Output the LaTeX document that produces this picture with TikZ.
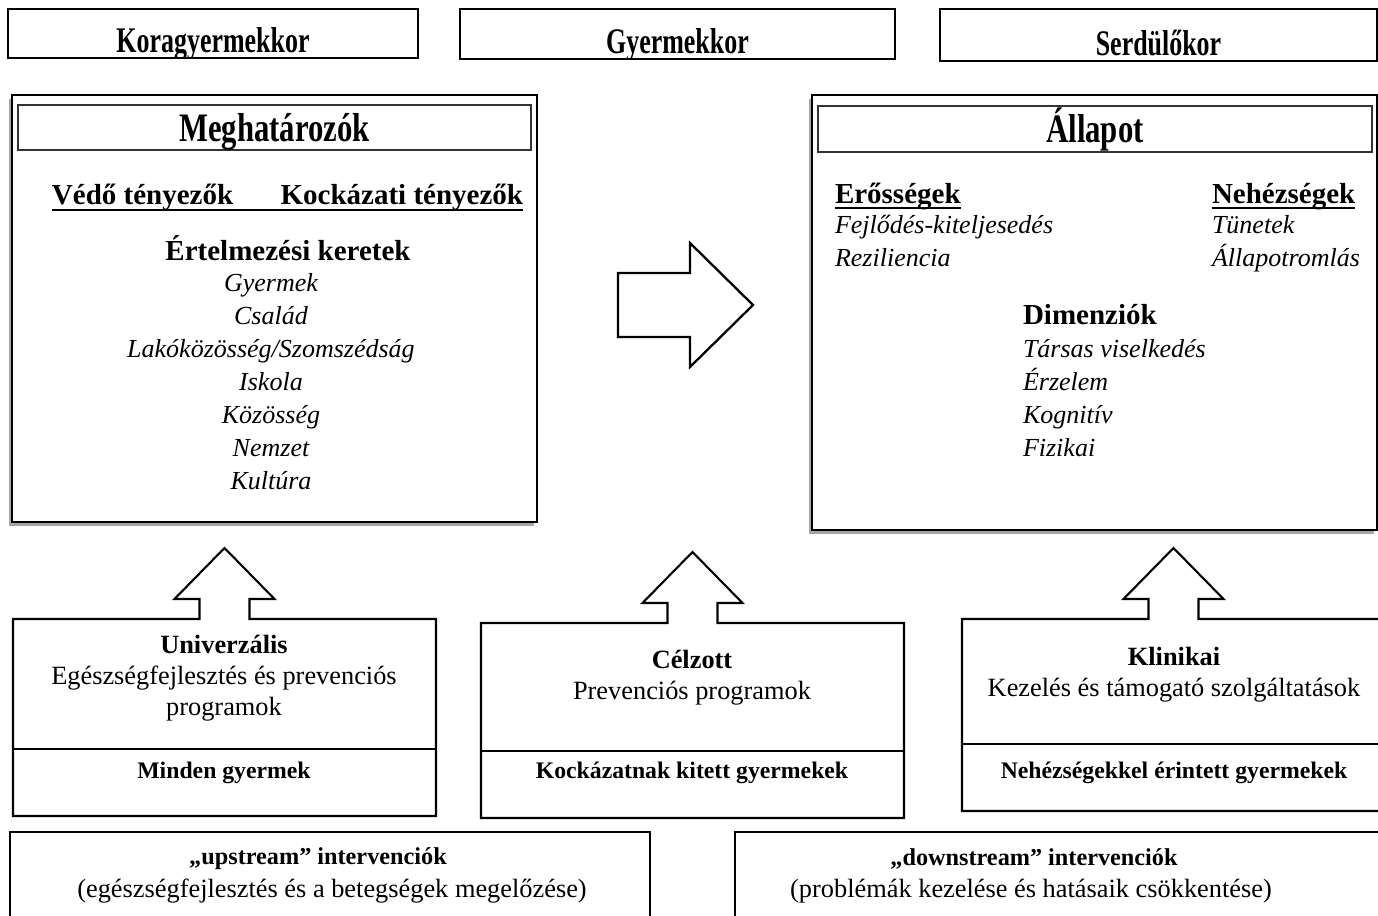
\documentclass[tikz,border=0pt]{standalone}
\usepackage{fontspec}
\setmainfont{Liberation Serif}
\newfontfamily\tallfont{Liberation Serif}[FakeStretch=0.72]
\newfontfamily\titlefont{Liberation Serif}[FakeStretch=0.76]
\usetikzlibrary{calc, shadows}
\newcommand\pxu{0.2mm}
\tikzset{
  every node/.style = {inner sep=0pt, outer sep=0pt},
  agebox/.style     = {draw, line width=1.6pt},
  agelab/.style     = {font=\tallfont\fontsize{20.5}{24}\selectfont\bfseries, anchor=base},
  bigbox/.style     = {draw, line width=1.7pt, fill=white,
                       drop shadow={shadow xshift=-1.6pt, shadow yshift=-2pt, opacity=.35, fill=black}},
  titlebox/.style   = {draw=black!80, line width=0.9pt},
  titlelab/.style   = {font=\titlefont\fontsize{23}{26}\selectfont\bfseries, anchor=base},
  headlab/.style    = {font=\fontsize{16.5}{19}\selectfont\bfseries},
  itemlab/.style    = {font=\fontsize{14.8}{17}\selectfont\itshape, anchor=base},
  uline/.style      = {line width=1.1pt},
  bigarrow/.style   = {draw, line width=1.3pt, fill=white, line join=miter},
  progline/.style   = {draw, line width=1.2pt, line join=miter},
  proglab/.style    = {font=\fontsize{15}{17.6}\selectfont, align=center},
  grouplab/.style   = {font=\fontsize{13.5}{16}\selectfont\bfseries},
  streambox/.style  = {draw, line width=1.5pt},
  streamhead/.style = {font=\fontsize{13.8}{16}\selectfont\bfseries},
  streamlab/.style  = {font=\fontsize{15}{18}\selectfont},
}
\begin{document}
\begin{tikzpicture}[x=0.2mm, y=-0.2mm]
\useasboundingbox (0,0) rectangle (1378,916);

% age bands
\node[agebox, minimum width=410*\pxu, minimum height=49*\pxu] (kora) at (213,33.5) {};
\node[agebox, minimum width=435*\pxu, minimum height=50*\pxu] (gyer) at (677.5,34) {};
\node[agebox, minimum width=437*\pxu, minimum height=52*\pxu] (serd) at (1158.5,35) {};
\foreach \n/\t in {kora/Koragyermekkor, gyer/Gyermekkor, serd/Serdülőkor}{
  \begin{scope}
    \clip ($(\n.south west)+(1.5,-1.5)$) rectangle ($(\n.north east)+(-1.5,1.5)$);
    \node[agelab] (\n lab) at ($(\n.south)+(0,-6)$) {\t};
  \end{scope}
}

% determinants
\node[bigbox, minimum width=525*\pxu, minimum height=427*\pxu] (det) at (274.5,308.5) {};
\node[titlebox, minimum width=513*\pxu, minimum height=45*\pxu] (dettitle) at (274.5,127.5) {};
\node[titlelab] (dettitlelab) at (274.5,141) {Meghatározók};
\node[headlab, anchor=base west] (protect) at (52,204) {Védő tényezők};
\node[headlab, anchor=base east] (risk) at (523,204) {Kockázati tényezők};
\draw[uline] ($(protect.base west)+(0,6)$) -- ($(risk.base east)+(0,6)$);
\node[headlab] (frames) at (288,248) {Értelmezési keretek};
\foreach \t [count=\i] in {Gyermek, Család, {Lakóközösség/Szomszédság}, Iskola, Közösség, Nemzet, Kultúra}
  \node[itemlab] (frame\i) at (271,258+33*\i) {\t};

% state
\node[bigbox, minimum width=565*\pxu, minimum height=435*\pxu] (state) at (1094.5,312.5) {};
\node[titlebox, minimum width=554*\pxu, minimum height=46*\pxu] (statetitle) at (1095,129) {};
\node[titlelab] (statetitlelab) at (1095,142) {Állapot};
\node[headlab, anchor=base west] (strength) at (835,203) {Erősségek};
\draw[uline] ($(strength.base west)+(0,5)$) -- ($(strength.base east)+(0,5)$);
\node[headlab, anchor=base west] (difficulty) at (1212,203) {Nehézségek};
\draw[uline] ($(difficulty.base west)+(0,5)$) -- ($(difficulty.base east)+(0,5)$);
\foreach \t [count=\i] in {Fejlődés-kiteljesedés, Reziliencia}
  \node[itemlab, anchor=base west] (strength\i) at (835,200+33*\i) {\t};
\foreach \t [count=\i] in {Tünetek, Állapotromlás}
  \node[itemlab, anchor=base west] (difficulty\i) at (1212,200+33*\i) {\t};
\node[headlab, anchor=base west] (dimension) at (1023,324) {Dimenziók};
\foreach \t [count=\i] in {Társas viselkedés, Érzelem, Kognitív, Fizikai}
  \node[itemlab, anchor=base west] (dimension\i) at (1023,324+33*\i) {\t};

% big arrow
\coordinate (arrowfoot) at (618,305);
\draw[bigarrow] (arrowfoot) -- ++(0,-32) -- ++(72,0) -- ++(0,-30) -- ++(63,62)
  -- ++(-63,62) -- ++(0,-30) -- ++(-72,0) -- cycle;

% programmes
\foreach \n/\cx/\cy/\h in {uni/224.5/717.5/197, tgt/692.5/720.5/195, clin/1173.5/715/192}{
  \node[minimum width=423*\pxu, minimum height=\h*\pxu] (\n) at (\cx,\cy) {};
  \draw[progline] (\n.north west) -- ($(\n.north)+(-25,0)$) -- ++(0,-20) -- ++(-25,0)
    -- ($(\n.north)+(0,-71)$) -- ($(\n.north)+(50,-20)$) -- ++(-25,0)
    -- ($(\n.north)+(25,0)$) -- (\n.north east) -- (\n.south east) -- (\n.south west) -- cycle;
  \draw[progline] ($(\n.south west)+(0,-67)$) -- ($(\n.south east)+(0,-67)$);
}
\node[proglab] (unilab) at (224,678) {\textbf{Univerzális}\\Egészségfejlesztés és prevenciós\\programok};
\node[proglab] (tgtlab) at (692,678) {\textbf{Célzott}\\Prevenciós programok};
\node[proglab] (clinlab) at (1174,675) {\textbf{Klinikai}\\Kezelés és támogató szolgáltatások};
\node[grouplab] (unigrp) at (224,773) {Minden gyermek};
\node[grouplab] (tgtgrp) at (692,773) {Kockázatnak kitett gyermekek};
\node[grouplab] (clingrp) at (1174,773) {Nehézségekkel érintett gyermekek};

% upstream / downstream
\node[streambox, minimum width=640*\pxu, minimum height=113*\pxu] (up) at (330,888.5) {};
\node[streambox, minimum width=655*\pxu, minimum height=113*\pxu] (down) at (1062.5,888.5) {};
\node[streamhead] (uphead) at (318,859) {„upstream” intervenciók};
\node[streamlab] (uplab) at (332,891) {(egészségfejlesztés és a betegségek megelőzése)};
\node[streamhead] (downhead) at (1034,859) {„downstream” intervenciók};
\node[streamlab] (downlab) at (1031,891) {(problémák kezelése és hatásaik csökkentése)};
\end{tikzpicture}
\end{document}
